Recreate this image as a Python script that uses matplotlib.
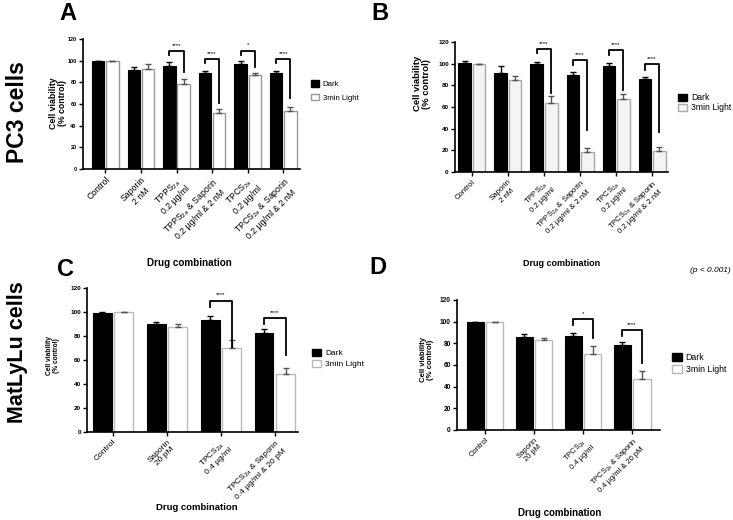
import numpy as np
import matplotlib
matplotlib.use('Agg')
import matplotlib.pyplot as plt
from matplotlib.patches import Patch

plt.rcParams['font.family'] = ['Liberation Sans', 'DejaVu Sans']
plt.rcParams['mathtext.fontset'] = 'custom'
plt.rcParams['mathtext.rm'] = 'Liberation Sans'
plt.rcParams['mathtext.it'] = 'Liberation Sans:italic'
plt.rcParams['mathtext.bf'] = 'Liberation Sans:bold'

# ---- data ----
labels_pc3 = ['Control', 'Saporin\n2 nM', 'TPPS$_{2a}$\n0.2 µg/ml',
              'TPPS$_{2a}$ & Saporin\n0.2 µg/ml & 2 nM', 'TPCS$_{2a}$\n0.2 µg/ml',
              'TPCS$_{2a}$ & Saporin\n0.2 µg/ml & 2 nM']
labels_mat = ['Control', 'Saporin\n20 pM', 'TPCS$_{2a}$\n0.4 µg/ml',
              'TPCS$_{2a}$ & Saporin\n0.4 µg/ml & 20 pM']

dark_a = [99.5, 91.0, 95.4, 88.9, 96.6, 88.4]
dark_err_a = [0.5, 3.0, 3.0, 2.0, 3.0, 2.4]
light_a = [99.5, 92.3, 78.3, 51.7, 87.0, 53.6]
light_err_a = [0.5, 5.0, 4.6, 3.6, 2.0, 4.0]

dark_b = [100.8, 91.6, 99.3, 90.0, 98.2, 85.8]
dark_err_b = [1.8, 6.2, 2.4, 2.2, 2.8, 1.9]
light_b = [99.4, 85.0, 63.5, 18.9, 67.4, 19.0]
light_err_b = [0.5, 3.8, 6.5, 3.2, 4.5, 4.0]

dark_c = [99.5, 89.9, 93.7, 82.1]
dark_err_c = [0.3, 1.6, 3.3, 3.6]
light_c = [100.0, 87.9, 69.7, 48.1]
light_err_c = [0.3, 2.5, 6.6, 5.0]

dark_d = [99.4, 85.8, 87.1, 78.8]
dark_err_d = [0.5, 3.0, 2.8, 2.8]
light_d = [99.4, 83.1, 70.5, 47.1]
light_err_d = [0.4, 2.0, 7.4, 7.0]

# significance brackets: group, bracket top, left leg end, right leg end, stars
br_a_grp = [2, 3, 4, 5]
br_a_top = [109.0, 101.2, 109.2, 101.2]
br_a_left = [105.0, 97.6, 105.0, 97.6]
br_a_right = [89.8, 60.6, 94.5, 65.2]
br_a_txt = ['****', '****', '*', '****']

br_b_grp = [2, 3, 4, 5]
br_b_top = [113.5, 103.4, 112.6, 99.4]
br_b_left = [109.5, 98.8, 108.0, 94.2]
br_b_right = [72.6, 38.8, 75.7, 37.2]
br_b_txt = ['****', '****', '****', '****']

br_c_grp = [2, 3]
br_c_top = [109.4, 94.7]
br_c_left = [104.4, 89.7]
br_c_right = [71.1, 64.2]
br_c_txt = ['****', '****']

br_d_grp = [2, 3]
br_d_top = [102.5, 92.3]
br_d_left = [96.9, 86.8]
br_d_right = [85.2, 61.5]
br_d_txt = ['*', '****']


def panel(ax, labels, dark, dark_err, light, light_err,
          bg, btop, bl, br, btxt, xlim, lfill, ledge,
          xfs, yfs, labfs, labpos):
    x = np.arange(len(labels))
    n = len(labels)
    w = 0.35
    ax.bar(x - 0.2, dark, w, color='black', edgecolor='black', lw=0.8, zorder=2)
    ax.bar(x + 0.2, light, w, color=lfill, edgecolor=ledge, lw=1.0, zorder=2)
    ax.errorbar(x - 0.2, dark, yerr=[np.zeros(n), dark_err], fmt='none',
                ecolor='black', elinewidth=1, capsize=2, capthick=1, zorder=3)
    ax.errorbar(x + 0.2, light, yerr=[np.zeros(n), light_err], fmt='none',
                ecolor='#555555', elinewidth=1, capsize=2, capthick=1, zorder=3)
    for g, t, l, r, s in zip(bg, btop, bl, br, btxt):
        ax.plot([g - 0.2, g - 0.2, g + 0.2, g + 0.2], [l, t, t, r],
                color='black', lw=1.3, zorder=4)
        ax.text(g, t + 3, s, ha='center', va='bottom', fontsize=4.5)
    ax.set_xlim(*xlim)
    ax.set_ylim(0, 120)
    ax.set_yticks(np.arange(0, 121, 20))
    ax.set_xticks(x)
    ax.set_xticklabels(labels, rotation=45, ha='right', va='top',
                       rotation_mode='anchor', fontsize=xfs, multialignment='center')
    for lab in ax.get_yticklabels():
        lab.set_fontsize(yfs)
        lab.set_fontweight('bold')
    ax.tick_params(length=3, width=1, pad=1.5)
    ax.spines['top'].set_visible(False)
    ax.spines['right'].set_visible(False)
    ax.spines['left'].set_linewidth(1.2)
    ax.spines['bottom'].set_linewidth(1.2)
    ax.text(labpos[0], labpos[1], 'Cell viability\n(% control)', transform=ax.transAxes,
            rotation=90, ha='center', va='center', fontsize=labfs, fontweight='bold',
            multialignment='center', linespacing=1.0)


def legend(fig, pos, lfill, ledge, fs, spacing):
    h = [Patch(facecolor='black', edgecolor='black', label='Dark'),
         Patch(facecolor=lfill, edgecolor=ledge, label='3min Light')]
    fig.legend(handles=h, loc='upper left', bbox_to_anchor=pos, frameon=False,
               borderpad=0, borderaxespad=0, handlelength=1.1, handleheight=0.9,
               handletextpad=0.45, labelspacing=spacing, fontsize=fs)


fig = plt.figure(figsize=(7.33, 5.2), dpi=100)

ax_a = fig.add_axes([0.1132, 0.675, 0.296, 0.25])
panel(ax_a, labels_pc3, dark_a, dark_err_a, light_a, light_err_a,
      br_a_grp, br_a_top, br_a_left, br_a_right, br_a_txt,
      (-0.63, 5.47), 'white', '#999999', 6.3, 4.0, 6.3, (-0.115, 0.51))
legend(fig, (0.424, 0.846), 'white', '#999999', 5.6, 0.75)

ax_b = fig.add_axes([0.6207, 0.6692, 0.2906, 0.25])
panel(ax_b, labels_pc3, dark_b, dark_err_b, light_b, light_err_b,
      br_b_grp, br_b_top, br_b_left, br_b_right, br_b_txt,
      (-0.47, 5.44), '#f4f4f4', '#aaaaaa', 5.6, 4.6, 6.8, (-0.155, 0.68))
legend(fig, (0.925, 0.821), '#f4f4f4', '#aaaaaa', 6.2, 0.15)

ax_c = fig.add_axes([0.1187, 0.1692, 0.2879, 0.277])
panel(ax_c, labels_mat, dark_c, dark_err_c, light_c, light_err_c,
      br_c_grp, br_c_top, br_c_left, br_c_right, br_c_txt,
      (-0.48, 3.43), 'white', '#bbbbbb', 6.0, 4.6, 4.8, (-0.16, 0.53))
legend(fig, (0.426, 0.329), 'white', '#bbbbbb', 6.0, 0.3)

ax_d = fig.add_axes([0.6235, 0.1731, 0.277, 0.25])
panel(ax_d, labels_mat, dark_d, dark_err_d, light_d, light_err_d,
      br_d_grp, br_d_top, br_d_left, br_d_right, br_d_txt,
      (-0.57, 3.57), 'white', '#bbbbbb', 5.4, 4.7, 5.6, (-0.15, 0.54))
legend(fig, (0.917, 0.321), 'white', '#bbbbbb', 6.3, 0.35)

# x axis titles
fig.text(189 / 733, 1 - 263 / 520, 'Drug combination', ha='center', va='center',
         fontsize=7.1, fontweight='bold')
fig.text(562 / 733, 1 - 263 / 520, 'Drug combination', ha='center', va='center',
         fontsize=6.5, fontweight='bold')
fig.text(197 / 733, 1 - 508 / 520, 'Drug combination', ha='center', va='center',
         fontsize=6.8, fontweight='bold')
fig.text(560 / 733, 1 - 513 / 520, 'Drug combination', ha='center', va='center',
         fontsize=7.0, fontweight='bold')
fig.text(731 / 733, 1 - 271 / 520, '(p < 0.001)', ha='right', va='center',
         fontsize=6, style='italic')

# panel letters and row titles
fig.text(68 / 733, 1 - 14 / 520, 'A', ha='center', va='center', fontsize=17, fontweight='bold')
fig.text(380 / 733, 1 - 13 / 520, 'B', ha='center', va='center', fontsize=17, fontweight='bold')
fig.text(66 / 733, 1 - 270 / 520, 'C', ha='center', va='center', fontsize=17, fontweight='bold')
fig.text(378 / 733, 1 - 267 / 520, 'D', ha='center', va='center', fontsize=17, fontweight='bold')
fig.text(18 / 733, 1 - 112 / 520, 'PC3 cells', ha='center', va='center', rotation=90,
         fontsize=16.5, fontweight='bold')
fig.text(18 / 733, 1 - 352 / 520, 'MatLyLu cells', ha='center', va='center', rotation=90,
         fontsize=15.5, fontweight='bold')

fig.savefig('out.png', dpi=100)
